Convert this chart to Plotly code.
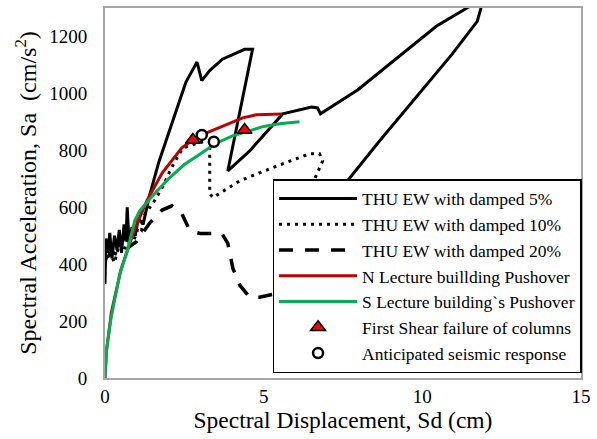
import plotly.graph_objects as go

# THU EW damped 5%
sd5 = [0.0, 0.03, 0.1, 0.15, 0.22, 0.3, 0.38, 0.45, 0.52, 0.6, 0.66, 0.7, 0.76, 0.85, 0.95, 1.05, 1.2,
       1.4, 1.7, 2.0, 2.3, 2.55, 2.75, 2.9, 3.05, 3.3, 3.7, 4.4, 4.65, 3.87, 4.56, 5.6, 6.51, 6.7, 6.79,
       7.96, 10.44, 11.48, 11.86, 11.73, 10.94, 8.65, 7.14, 7.01, 6.7, 7.2, 8.5, 10.5, 12.5, 14.1, 14.6, 15.0]
sa5 = [330, 490, 440, 510, 420, 500, 450, 520, 440, 540, 480, 600, 470, 530, 500, 560, 540,
       640, 760, 860, 960, 1040, 1080, 1110, 1045, 1080, 1120, 1155, 1155, 728, 798, 928, 952, 949, 928,
       1012, 1236, 1305, 1305, 1253, 1138, 833, 623, 595, 480, 380, 400, 470, 550, 605, 608, 605]

# THU EW damped 10%
sd10 = [0.0, 0.15, 0.3, 0.45, 0.6, 0.75, 0.9, 1.05, 1.15, 1.26, 1.5, 1.8, 2.1, 2.45, 2.9, 3.3, 3.3,
        3.4, 4.25, 5.28, 6.45, 6.76, 6.86, 6.19, 5.9, 6.2]
sa10 = [410, 440, 405, 470, 450, 500, 480, 530, 520, 577, 612, 668, 740, 808, 825, 835, 648,
        634, 693, 739, 788, 788, 763, 595, 520, 470]

# THU EW damped 20%
sd20 = [0.0, 0.25, 0.5, 0.75, 1.0, 1.2, 1.42, 1.8, 2.11, 2.42, 2.67, 2.99, 3.68, 3.87, 4.03, 4.25,
        4.56, 4.87, 5.28, 6.0, 7.0]
sa20 = [420, 440, 430, 460, 480, 510, 546, 590, 605, 578, 518, 508, 508, 473, 385, 326,
        284, 284, 294, 310, 330]

# N Lecture building pushover
sdN = [0.0, 0.05, 0.2, 0.5, 0.8, 1.0, 1.32, 1.8, 2.42, 2.77, 3.05, 3.5, 4.0, 4.34, 4.78, 5.2, 5.57]
saN = [0, 100, 230, 380, 480, 540, 623, 720, 809, 836, 854, 875, 898, 914, 925, 928, 928]

# S Lecture building pushover
sdS = [0.0, 0.05, 0.19, 0.47, 0.69, 0.94, 1.1, 1.5, 2.0, 2.5, 3.0, 3.5, 4.0, 4.5, 5.0, 5.5, 6.13]
saS = [0, 100, 210, 367, 441, 553, 588, 640, 700, 750, 787, 825, 850, 868, 884, 893, 900]

# markers
shear_sd = [2.77, 4.40]
shear_sa = [836, 871]
resp_sd = [3.05, 3.43]
resp_sa = [854, 830]

fig = go.Figure()
fig.add_trace(go.Scatter(x=sd5, y=sa5, mode="lines", name="THU EW with damped 5%",
                         line=dict(color="black", width=3)))
fig.add_trace(go.Scatter(x=sd10, y=sa10, mode="lines", name="THU EW with damped 10%",
                         line=dict(color="black", width=3, dash="3px,5px")))
fig.add_trace(go.Scatter(x=sd20, y=sa20, mode="lines", name="THU EW with damped 20%",
                         line=dict(color="black", width=3.5, dash="14px,12px")))
fig.add_trace(go.Scatter(x=sdN, y=saN, mode="lines", name="N Lecture buillding Pushover",
                         line=dict(color="#c00000", width=3)))
fig.add_trace(go.Scatter(x=sdS, y=saS, mode="lines", name="S Lecture building`s Pushover",
                         line=dict(color="#00b050", width=3)))
fig.add_trace(go.Scatter(x=shear_sd, y=shear_sa, mode="markers", name="First Shear failure of columns",
                         marker=dict(symbol="triangle-up", size=13, color="red",
                                     line=dict(color="black", width=1.5))))
fig.add_trace(go.Scatter(x=resp_sd, y=resp_sa, mode="markers", name="Anticipated seismic response",
                         marker=dict(symbol="circle", size=10, color="white",
                                     line=dict(color="black", width=2.5))))

font = "Liberation Serif, Times New Roman, serif"
fig.update_layout(
    width=597, height=439,
    margin=dict(l=105, r=15, t=6, b=61),
    paper_bgcolor="white", plot_bgcolor="white",
    font=dict(family=font, size=19, color="black"),
    showlegend=True,
    legend=dict(x=0.352, y=0.013, xanchor="left", yanchor="bottom",
                bgcolor="white", bordercolor="black", borderwidth=1.5,
                font=dict(family=font, size=17.5), tracegroupgap=0, itemwidth=78),
    xaxis=dict(range=[0, 15], tickvals=[0, 5, 10, 15], showgrid=False, zeroline=False,
               showline=True, mirror=True, linecolor="#a6a6a6", linewidth=2,
               ticks="", ticklabelstandoff=0,
               title=dict(text="Spectral Displacement, Sd (cm)", font=dict(size=23.5), standoff=0)),
    yaxis=dict(range=[0, 1300], tickvals=[0, 200, 400, 600, 800, 1000, 1200], showgrid=False,
               zeroline=False, showline=True, mirror=True, linecolor="#a6a6a6", linewidth=2,
               ticks="", ticklabelstandoff=12,
               title=dict(text="Spectral Acceleration, Sa\u00a0\u00a0(cm/s<sup>2</sup>)",
                          font=dict(size=24), standoff=6)),
)

fig.write_html("out.html")
